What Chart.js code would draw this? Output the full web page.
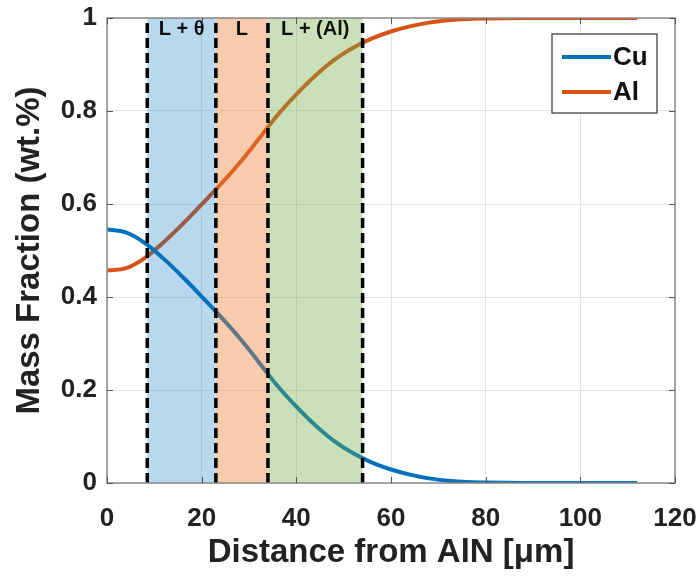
<!DOCTYPE html>
<html>
<head>
<meta charset="utf-8">
<script src="https://cdn.jsdelivr.net/npm/chart.js@4.4.1/dist/chart.umd.min.js"></script>
<style>
html,body{margin:0;padding:0;background:#fff;}
#wrap{width:699px;height:579px;}
</style>
</head>
<body>
<div id="wrap"><canvas id="c" width="699" height="579"></canvas></div>
<script>
// ---- data ----
const distance = [0,4,8,12,16,20,24,28,32,36,40,44,48,52,56,60,64,68,72,76,80,88,100,112];
const cuFraction = [0.545,0.539,0.516,0.482,0.443,0.401,0.358,0.312,0.261,0.209,0.164,0.124,0.090,0.064,0.044,0.029,0.018,0.010,0.005,0.002,0.001,0,0,0];
const alFraction = [0.457,0.462,0.484,0.518,0.557,0.599,0.642,0.688,0.739,0.791,0.836,0.876,0.910,0.936,0.956,0.971,0.982,0.990,0.995,0.998,0.999,1,1,1];
const bandStart = [8.5, 23, 34];
const bandEnd = [23, 34, 54];
const bandLabels = ['L + θ', 'L', 'L + (Al)'];
const dividers = [8.5, 23, 34, 54];
const xTicks = [0,20,40,60,80,100,120];
const yTicks = [0,0.2,0.4,0.6,0.8,1];

const bandColors = ['rgba(0,114,189,0.28)','rgba(237,125,49,0.40)','rgba(112,173,71,0.38)'];
const CU = '#0072BD', AL = '#D95319';

const datasets = [];
datasets.push({label:'Cu', data: distance.map((x,i)=>({x, y: cuFraction[i]})), borderColor: CU, backgroundColor: CU, borderWidth: 4, pointRadius: 0, tension: 0.4, fill: false, order: 3});
datasets.push({label:'Al', data: distance.map((x,i)=>({x, y: alFraction[i]})), borderColor: AL, backgroundColor: AL, borderWidth: 4, pointRadius: 0, tension: 0.4, fill: false, order: 3});
bandStart.forEach((s,i)=>{
  datasets.push({label:'band'+i, data:[{x:s,y:1},{x:bandEnd[i],y:1}], borderWidth:0, borderColor:'rgba(0,0,0,0)', backgroundColor: bandColors[i], pointRadius:0, fill:'origin', order:2});
});
dividers.forEach((d,i)=>{
  datasets.push({label:'div'+i, data:[{x:d,y:0},{x:d,y:1}], borderWidth:3.5, borderColor:'#000', borderDash:[10,5], pointRadius:0, fill:false, order:1});
});

const FONT = 'Liberation Sans';

const decor = {
  id:'decor',
  afterDatasetsDraw(chart){
    const {ctx, scales:{x,y}} = chart;
    ctx.save();
    ctx.fillStyle = '#111';
    ctx.font = 'bold 20px "'+FONT+'"';
    ctx.textAlign = 'center'; ctx.textBaseline = 'middle';
    bandLabels.forEach((t,i)=>{
      ctx.fillText(t, x.getPixelForValue((bandStart[i]+bandEnd[i])/2), y.getPixelForValue(0.975));
    });
    ctx.restore();
  },
  afterDraw(chart){
    const {ctx, chartArea:a, scales:{x,y}} = chart;
    ctx.save();
    ctx.strokeStyle = '#8a8a8a'; ctx.lineWidth = 1.5;
    ctx.strokeRect(a.left, a.top, a.right-a.left, a.bottom-a.top);
    ctx.strokeStyle = '#555'; ctx.lineWidth = 1;
    xTicks.forEach(v=>{const px = Math.round(x.getPixelForValue(v))+0.5;
      ctx.beginPath(); ctx.moveTo(px,a.bottom); ctx.lineTo(px,a.bottom-6); ctx.stroke();
      ctx.beginPath(); ctx.moveTo(px,a.top); ctx.lineTo(px,a.top+6); ctx.stroke();});
    yTicks.forEach(v=>{const py = Math.round(y.getPixelForValue(v))+0.5;
      ctx.beginPath(); ctx.moveTo(a.left,py); ctx.lineTo(a.left+6,py); ctx.stroke();
      ctx.beginPath(); ctx.moveTo(a.right,py); ctx.lineTo(a.right-6,py); ctx.stroke();});
    // legend
    const lx = 552, ly = 34, lw = 105, lh = 79;
    ctx.fillStyle = '#fff';
    ctx.fillRect(lx, ly, lw, lh);
    ctx.strokeStyle = '#333'; ctx.lineWidth = 1.2;
    ctx.strokeRect(lx, ly, lw, lh);
    const items = [{t: chart.data.datasets[0].label, c: CU, yy: 57}, {t: chart.data.datasets[1].label, c: AL, yy: 92}];
    ctx.font = 'bold 26px "'+FONT+'"';
    ctx.textAlign = 'left'; ctx.textBaseline = 'middle';
    items.forEach(it=>{
      ctx.strokeStyle = it.c; ctx.lineWidth = 4;
      ctx.beginPath(); ctx.moveTo(562, it.yy); ctx.lineTo(611, it.yy); ctx.stroke();
      ctx.fillStyle = '#111';
      ctx.fillText(it.t, 613, it.yy+1);
    });
    ctx.restore();
  }
};

new Chart(document.getElementById('c'), {
  type:'line',
  data:{datasets},
  options:{
    responsive:false,
    animation:false,
    layout:{padding:{top:18, right:24, left:0, bottom:0}},
    plugins:{legend:{display:false}, tooltip:{enabled:false}},
    scales:{
      x:{type:'linear', min:0, max:120,
        afterBuildTicks(s){ s.ticks = xTicks.map(v=>({value:v})); },
        afterFit(s){ s.height = 96; s.paddingLeft = 0; s.paddingRight = 0; },
        grid:{color:'#e3e3e3', lineWidth:1, drawTicks:false},
        border:{display:false},
        ticks:{color:'#222', font:{family:FONT, weight:'bold', size:26}, padding:20, maxRotation:0},
        title:{display:true, text:'Distance from AlN [μm]', color:'#222', font:{family:FONT, weight:'bold', size:33}, padding:{top:0,bottom:6}}
      },
      y:{type:'linear', min:0, max:1,
        afterBuildTicks(s){ s.ticks = yTicks.map(v=>({value:v})); },
        afterFit(s){ s.width = 107; s.paddingTop = 0; s.paddingBottom = 0; },
        grid:{color:'#e3e3e3', lineWidth:1, drawTicks:false},
        border:{display:false},
        ticks:{color:'#222', font:{family:FONT, weight:'bold', size:26}, padding:10, callback:v=>String(v)},
        title:{display:true, text:'Mass Fraction (wt.%)', color:'#222', font:{family:FONT, weight:'bold', size:33}, padding:{top:10,bottom:0}}
      }
    }
  },
  plugins:[decor]
});
</script>
</body>
</html>
